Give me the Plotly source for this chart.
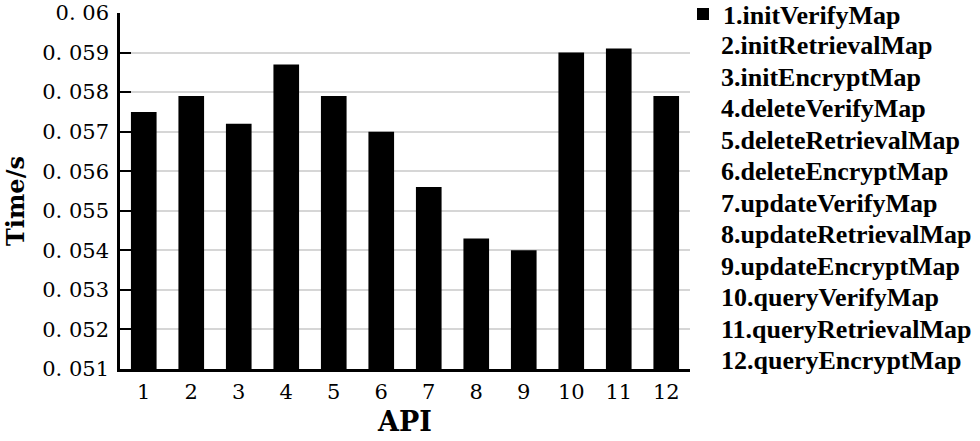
import plotly.graph_objects as go

# data
api_ids = [str(i) for i in range(1, 13)]
api_names = [
    "1.initVerifyMap", "2.initRetrievalMap", "3.initEncryptMap",
    "4.deleteVerifyMap", "5.deleteRetrievalMap", "6.deleteEncryptMap",
    "7.updateVerifyMap", "8.updateRetrievalMap", "9.updateEncryptMap",
    "10.queryVerifyMap", "11.queryRetrievalMap", "12.queryEncryptMap",
]
times = [0.0575, 0.0579, 0.0572, 0.0587, 0.0579, 0.0570,
         0.0556, 0.0543, 0.0540, 0.0590, 0.0591, 0.0579]
y_tickvals = [0.051, 0.052, 0.053, 0.054, 0.055, 0.056, 0.057, 0.058, 0.059, 0.060]
y_ticktext = ["0. 051", "0. 052", "0. 053", "0. 054", "0. 055",
              "0. 056", "0. 057", "0. 058", "0. 059", "0. 06"]

W, H = 980, 441
L, R, T, B = 120, 290, 13, 72   # plot area 120..690 x 13..369
plot_w, plot_h = W - L - R, H - T - B

legend_font = dict(family="Liberation Serif", size=26, color="black", weight="bold")

fig = go.Figure()
fig.add_trace(go.Bar(
    x=api_ids,
    y=times,
    name=api_names[0],
    marker=dict(color="black", line=dict(width=0)),
    width=0.54,
    showlegend=True,
))

fig.update_layout(
    width=W,
    height=H,
    margin=dict(l=L, r=R, t=T, b=B, autoexpand=False),
    plot_bgcolor="white",
    paper_bgcolor="white",
    showlegend=True,
    legend=dict(
        xref="container", yref="container",
        x=683 / W, y=1 - 14 / H,
        xanchor="left", yanchor="middle",
        font=legend_font,
        bgcolor="rgba(0,0,0,0)",
    ),
    xaxis=dict(
        type="category",
        range=[-0.5, 11.5],
        automargin=False,
        showline=True, linecolor="black", linewidth=2.5,
        ticks="", showgrid=False,
        tickfont=dict(family="DejaVu Serif", size=21, color="black"),
        ticklabelstandoff=2,
        title=dict(text="API", standoff=10,
                   font=dict(family="DejaVu Serif", size=27, color="black", weight="bold")),
    ),
    yaxis=dict(
        range=[0.051, 0.0600001],
        tickvals=y_tickvals,
        ticktext=y_ticktext,
        automargin=False,
        ticklabeloverflow="allow",
        showline=True, linecolor="black", linewidth=2.5,
        ticks="inside", ticklen=11, tickwidth=2, tickcolor="black",
        showgrid=True, gridcolor="#d6d6d6", gridwidth=2,
        zeroline=False,
        tickfont=dict(family="DejaVu Serif", size=21, color="black"),
        ticklabelstandoff=4,
    ),
)

# y axis title placed by hand (it sits closer to the tick labels than standoff allows)
fig.add_annotation(
    xref="paper", yref="paper",
    x=(16 - L) / plot_w, y=(H - B - 201) / plot_h,
    xanchor="center", yanchor="middle",
    text="Time/s", textangle=-90,
    showarrow=False,
    font=dict(family="DejaVu Serif", size=24, color="black", weight="bold"),
)

# remaining legend rows as text lines below the first legend entry
row_gap = 31.5
for i, name in enumerate(api_names[1:], start=1):
    py = 14 + row_gap * i
    fig.add_annotation(
        xref="paper", yref="paper",
        x=(719 - L) / plot_w, y=(H - B - py) / plot_h,
        xanchor="left", yanchor="middle",
        text=name,
        showarrow=False,
        font=legend_font,
    )

# drop the default 8px body margin so the figure fills the window
fig.write_html(
    "out.html",
    config={"displayModeBar": False},
    post_script="document.body.style.margin='0';",
)
